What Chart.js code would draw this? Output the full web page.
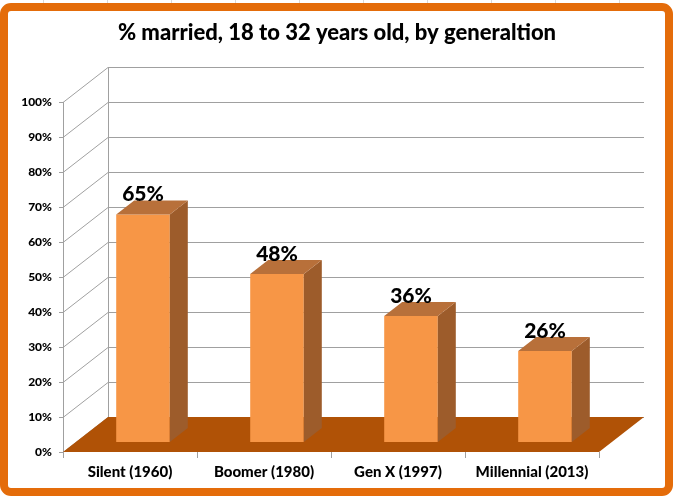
<!DOCTYPE html>
<html>
<head>
<meta charset="utf-8">
<script src="https://cdn.jsdelivr.net/npm/chart.js@4.4.1/dist/chart.umd.min.js"></script>
<style>
  html, body { margin: 0; padding: 0; background: #fff; }
  #wrap { width: 674px; height: 497px; position: relative; }
</style>
</head>
<body>
<div id="wrap"><canvas id="myBarChart" width="674" height="497"></canvas></div>
<script>
// chart data
let generations = ["Silent (1960)", "Boomer (1980)", "Gen X (1997)", "Millennial (2013)"];
let marriedPct = [65, 48, 36, 26];
let yTicks = [0, 10, 20, 30, 40, 50, 60, 70, 80, 90, 100];
let chartTitle = "% married, 18 to 32 years old, by generaltion";

let fontName = "Lato, 'Liberation Sans', sans-serif";
let heavy = "900";

// 3d look: wall depth, bar position inside the depth, bar depth
const WALL_DX = 45, WALL_DY = -35;
const BAR_OFF_X = 13, BAR_OFF_Y = -10;
const BAR_DX = 18, BAR_DY = -14;

let frame3d = {
  id: "frame3d",
  beforeDraw(chart) {
    let ctx = chart.ctx;
    ctx.save();
    // excel cell lines peeking above the frame
    ctx.strokeStyle = "#D9D9D9";
    ctx.lineWidth = 1;
    for (let x = 43; x < 674; x += 64) {
      ctx.beginPath(); ctx.moveTo(x + 0.5, 0); ctx.lineTo(x + 0.5, 4); ctx.stroke();
    }
    // orange frame
    ctx.strokeStyle = "#E46C0A";
    ctx.lineWidth = 8;
    ctx.beginPath();
    ctx.roundRect(4, 7, 665, 485, 7);
    ctx.stroke();
    // title, centred on the whole frame
    ctx.fillStyle = "#000";
    ctx.font = heavy + " 22px " + fontName;
    ctx.textAlign = "center";
    ctx.textBaseline = "middle";
    ctx.fillText(chartTitle, 337, 33);
    ctx.restore();
  },
  beforeDatasetsDraw(chart) {
    let ctx = chart.ctx, a = chart.chartArea, ys = chart.scales.y;
    ctx.save();
    ctx.strokeStyle = "#A0A0A0";
    ctx.lineWidth = 1;
    // side wall diagonals + back wall lines
    yTicks.forEach(function (v) {
      let py = Math.round(ys.getPixelForValue(v)) + 0.5;
      ctx.beginPath();
      ctx.moveTo(a.left, py);
      ctx.lineTo(a.left + WALL_DX, py + WALL_DY);
      ctx.lineTo(a.right + WALL_DX, py + WALL_DY);
      ctx.stroke();
      // tick mark on front axis
      ctx.beginPath();
      ctx.moveTo(a.left - 4, py);
      ctx.lineTo(a.left, py);
      ctx.stroke();
    });
    // back wall left edge
    ctx.beginPath();
    ctx.moveTo(a.left + WALL_DX + 0.5, a.top + WALL_DY);
    ctx.lineTo(a.left + WALL_DX + 0.5, a.bottom + WALL_DY);
    ctx.stroke();
    // front axis
    ctx.beginPath();
    ctx.moveTo(a.left + 0.5, a.top);
    ctx.lineTo(a.left + 0.5, a.bottom);
    ctx.stroke();
    // floor
    ctx.fillStyle = "#B05206";
    ctx.beginPath();
    ctx.moveTo(a.left, a.bottom);
    ctx.lineTo(a.right, a.bottom);
    ctx.lineTo(a.right + WALL_DX, a.bottom + WALL_DY);
    ctx.lineTo(a.left + WALL_DX, a.bottom + WALL_DY);
    ctx.closePath();
    ctx.fill();
    // category ticks under the floor
    let step = (a.right - a.left) / generations.length;
    for (let i = 0; i <= generations.length; i++) {
      let px = Math.round(a.left + step * i) + 0.5;
      ctx.beginPath(); ctx.moveTo(px, a.bottom); ctx.lineTo(px, a.bottom + 6); ctx.stroke();
    }
    ctx.restore();

    ctx.save();
    ctx.translate(BAR_OFF_X, BAR_OFF_Y);
  },
  afterDatasetsDraw(chart) {
    let ctx = chart.ctx;
    let meta = chart.getDatasetMeta(0);
    meta.data.forEach(function (bar, i) {
      let l = bar.x - bar.width / 2, r = bar.x + bar.width / 2, t = bar.y, b = bar.base;
      // side face
      ctx.fillStyle = "#9D5C2B";
      ctx.beginPath();
      ctx.moveTo(r, t); ctx.lineTo(r + BAR_DX, t + BAR_DY);
      ctx.lineTo(r + BAR_DX, b + BAR_DY); ctx.lineTo(r, b);
      ctx.closePath(); ctx.fill();
      // top face
      ctx.fillStyle = "#B8703A";
      ctx.beginPath();
      ctx.moveTo(l, t); ctx.lineTo(r, t);
      ctx.lineTo(r + BAR_DX, t + BAR_DY); ctx.lineTo(l + BAR_DX, t + BAR_DY);
      ctx.closePath(); ctx.fill();
      // value label
      ctx.fillStyle = "#000";
      ctx.font = heavy + " 21px " + fontName;
      ctx.textAlign = "center";
      ctx.textBaseline = "middle";
      ctx.fillText(marriedPct[i] + "%", bar.x, t - 20);
    });
    ctx.restore();
  }
};

let chartData = {
  labels: generations,
  datasets: [
    {
      label: "% married",
      data: marriedPct,
      backgroundColor: "#F79646",
      borderWidth: 0,
      categoryPercentage: 1,
      barPercentage: 0.4,
      clip: false,
    },
  ],
};

let marriedChart = new Chart(document.getElementById("myBarChart").getContext("2d"), {
  type: "bar",
  data: chartData,
  plugins: [frame3d],
  options: {
    responsive: false,
    animation: false,
    layout: { padding: { left: 0, right: 75, top: 102, bottom: 0 } },
    plugins: {
      legend: { display: false },
      tooltip: { enabled: false },
      title: { display: false },
    },
    scales: {
      x: {
        grid: { display: false, drawTicks: false },
        border: { display: false },
        ticks: {
          color: "#000",
          font: { family: fontName, size: 15, weight: heavy },
          padding: 11,
          maxRotation: 0,
        },
        afterFit: function (scale) { scale.height = 45; },
      },
      y: {
        min: 0,
        max: 100,
        grid: { display: false, drawTicks: false },
        border: { display: false },
        ticks: {
          stepSize: 10,
          color: "#000",
          font: { family: fontName, size: 12, weight: heavy },
          padding: 11,
          callback: function (v) { return v + "%"; },
        },
        afterFit: function (scale) { scale.width = 63; },
      },
    },
  },
});
</script>
</body>
</html>
